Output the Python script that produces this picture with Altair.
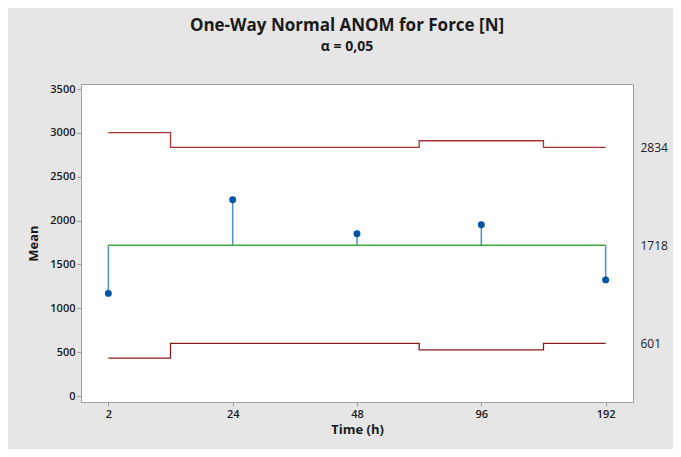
import altair as alt
import pandas as pd

times = ["2", "24", "48", "96", "192"]
means = [1170, 2237, 1849, 1952, 1324]
upper = [3003, 2834, 2834, 2910, 2834]
lower = [433, 601, 601, 526, 601]
center = 1718
ref_labels = [601, 1718, 2834]

df = pd.DataFrame({"time": times, "mean": means, "upper": upper,
                   "lower": lower, "center": [center] * len(times)})

FONT = "Open Sans"
ydom = [-68, 3557]

x = alt.X("time:N", sort=times,
          scale=alt.Scale(type="point", padding=0.22),
          axis=alt.Axis(title="Time (h)", labelAngle=0, tickSize=4, tickColor="#9a9a9a",
                        domain=False, labelPadding=2, labelFontSize=11, labelFontWeight=600,
                        labelColor="#1a1a1a", titleFontSize=13, titleFontWeight="bold",
                        titleColor="#1a1a1a", titlePadding=4, labelFont=FONT, titleFont=FONT))

yscale = alt.Scale(domain=ydom, nice=False, zero=False)
yaxis_left = alt.Axis(title="Mean", values=[0, 500, 1000, 1500, 2000, 2500, 3000, 3500],
                      format="d", orient="left",
                      tickSize=4, tickColor="#9a9a9a", domain=False, grid=False,
                      labelPadding=2, labelFontSize=11, labelFontWeight=600,
                      labelColor="#1a1a1a", titleFontSize=13, titleFontWeight="bold",
                      titleColor="#1a1a1a", titlePadding=9, labelFont=FONT, titleFont=FONT)

base = alt.Chart(df)

upper_line = base.mark_line(interpolate="step", color="#a83232", strokeWidth=1.3).encode(
    x=x, y=alt.Y("upper:Q", scale=yscale, axis=yaxis_left))
lower_line = base.mark_line(interpolate="step", color="#8b1a1a", strokeWidth=1.3).encode(
    x=x, y=alt.Y("lower:Q", scale=yscale, axis=None))
stems = base.mark_rule(color="#4f8fcf", strokeWidth=1.5).encode(
    x=x, y=alt.Y("mean:Q", scale=yscale, axis=None), y2="center:Q")
center_line = base.mark_line(interpolate="step", color="#3faa3f", strokeWidth=1.5).encode(
    x=x, y=alt.Y("center:Q", scale=yscale, axis=None))
points = base.mark_circle(color="#0054a6", opacity=1, size=48).encode(
    x=x, y=alt.Y("mean:Q", scale=yscale, axis=None))

right_axis = base.mark_point(opacity=0).encode(
    x=x,
    y=alt.Y("center:Q", scale=yscale,
            axis=alt.Axis(orient="right", title=None, values=ref_labels, format="d",
                          ticks=False, domain=False, grid=False, labelPadding=7,
                          labelFontSize=12, labelColor="#222222", labelFont=FONT)))

chart = alt.layer(upper_line, lower_line, stems, center_line, points, right_axis).resolve_axis(
    y="independent"
).properties(
    width=552, height=318,
    title=alt.TitleParams("One-Way Normal ANOM for Force [N]", subtitle="α = 0,05",
                          fontSize=17, fontWeight="bold", subtitleFontSize=14,
                          subtitleFontWeight="bold", font=FONT, subtitleFont=FONT,
                          color="#1a1a1a", subtitleColor="#1a1a1a", offset=28,
                          anchor="middle", subtitlePadding=5, dx=-10),
    autosize=alt.AutoSizeParams(type="none"),
    padding={"left": 73, "top": 76, "right": 40, "bottom": 47},
    background="#e6e6e6",
).configure_view(fill="white", stroke="#a0a0a0", strokeWidth=1)

chart.save("out.html", embed_options={"renderer": "svg", "actions": False})
